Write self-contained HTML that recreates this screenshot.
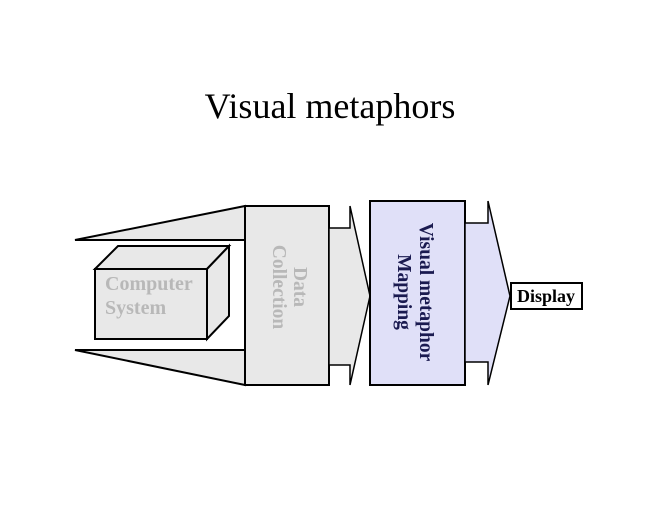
<!DOCTYPE html>
<html><head><meta charset="utf-8"><style>
html,body{margin:0;padding:0;background:#fff;width:660px;height:510px;overflow:hidden}
svg{display:block}
</style></head><body>
<svg width="660" height="510" viewBox="0 0 660 510" xmlns="http://www.w3.org/2000/svg">
<text x="330" y="118" text-anchor="middle" font-family="Liberation Serif, serif" font-size="36" fill="#000">Visual metaphors</text>
<g stroke="#000" stroke-width="2" stroke-linejoin="miter">
<polygon points="75,240 245,206 245,240" fill="#e8e8e8"/>
<polygon points="75,350 245,350 245,385" fill="#e8e8e8"/>
<polygon points="95,269 118,246 229,246 207,269" fill="#e8e8e8"/>
<polygon points="207,269 229,246 229,316 207,339" fill="#e8e8e8"/>
<rect x="95" y="269" width="112" height="70" fill="#e8e8e8"/>
<rect x="245" y="206" width="84" height="179" fill="#e8e8e8"/>
<polygon points="329,228 350,228 350,206 370,296 350,385 350,365 329,365" fill="#e8e8e8" stroke-width="1.5"/>
<rect x="370" y="201" width="95" height="184" fill="#e0e0f8"/>
<polygon points="465,223 488,223 488,201 510,296 488,385 488,362 465,362" fill="#e0e0f8" stroke-width="1.5"/>
<rect x="511" y="283" width="71" height="26" fill="#fff"/>
</g>
<g font-family="Liberation Serif, serif" font-weight="bold">
<text x="105" y="290" font-size="20" fill="#b8b8b8">Computer</text>
<text x="105" y="314" font-size="20" fill="#b8b8b8">System</text>
<g transform="translate(289,287) rotate(90)" font-size="19.5" fill="#b8b8b8" text-anchor="middle">
<text x="0" y="-5">Data</text>
<text x="0" y="16">Collection</text>
</g>
<g transform="translate(414,292) rotate(90)" font-size="19.5" fill="#1a1a50" text-anchor="middle">
<text x="0" y="-6">Visual metaphor</text>
<text x="0" y="16">Mapping</text>
</g>
<text x="546" y="302" font-size="18" fill="#000" text-anchor="middle">Display</text>
</g>
</svg>
</body></html>
